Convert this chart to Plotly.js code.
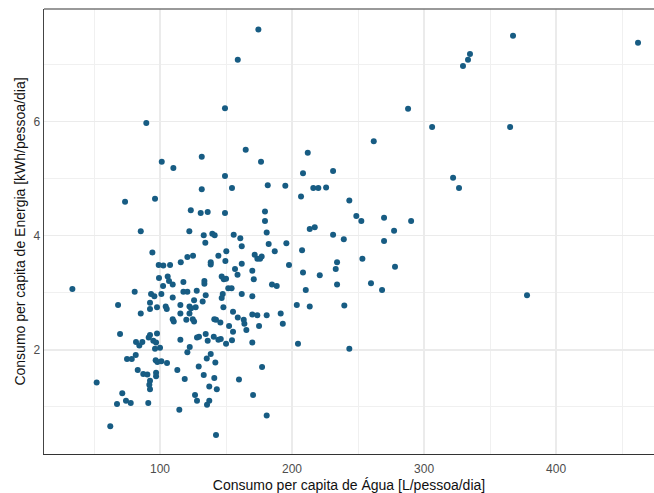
<!DOCTYPE html>
<html>
<head>
<meta charset="utf-8">
<script src="https://cdn.plot.ly/plotly-3.0.1.min.js"></script>
<style>
html,body{margin:0;padding:0;background:#fff;}
#chart{width:654px;height:493px;}
</style>
</head>
<body>
<div id="chart"></div>
<script>
// Consumo per capita de Água [L/pessoa/dia]
const agua = [
89.6,101.3,110.1,73.5,96.2,85.4,94.2,99.0,102.5,107.6,99.2,105.8,106.8,109.6,102.3,33.6,80.8,93.2,95.7,101.0,
109.6,68.2,92.4,92.4,97.7,104.3,105.1,85.4,109.6,110.4,69.7,92.4,91.4,97.7,81.8,86.6,84.3,94.9,97.0,96.2,
100.0,81.6,75.0,78.6,96.7,98.0,101.0,105.3,83.1,87.3,90.4,97.0,97.0,113.1,52.0,92.4,91.9,92.4,71.4,74.2,
77.8,67.4,91.1,114.6,62.3,
158.9,174.5,149.2,164.9,131.6,176.5,211.9,261.9,149.2,131.6,154.5,181.6,194.9,208.3,231.1,216.1,219.9,225.8,206.8,243.4,
123.3,130.8,136.1,149.2,179.5,179.5,248.7,252.5,122.2,133.1,139.6,141.4,134.3,155.8,160.8,161.9,180.8,182.3,195.7,186.9,
213.4,217.2,231.1,239.2,207.6,197.7,253.3,234.1,233.1,115.7,120.7,125.0,144.2,150.2,149.5,138.4,138.4,161.9,171.7,173.7,
177.0,175.8,156.8,208.3,221.0,234.1,259.8,158.7,146.7,148.3,150.0,169.9,171.0,161.9,169.9,184.8,188.4,210.4,203.6,213.4,
239.6,191.4,193.0,180.8,173.7,169.9,175.0,165.4,163.4,163.9,158.9,155.3,152.3,155.3,154.5,169.9,150.0,144.2,146.0,140.7,
136.1,134.6,128.0,129.5,145.7,141.1,142.4,148.0,151.7,154.2,147.5,146.7,134.6,132.3,127.8,125.8,127.0,122.3,123.5,122.3,
120.7,117.7,117.7,115.4,115.4,119.9,124.8,125.8,115.4,120.7,122.5,138.4,135.4,141.9,129.3,133.1,141.1,118.7,137.3,143.0,
159.8,177.3,204.5,243.4,126.5,128.0,137.3,135.6,170.5,180.8,142.4,133.6,133.6,
367.4,462.1,334.8,333.3,329.5,287.9,306.1,365.2,322.0,326.5,269.7,290.2,277.3,269.7,278.0,268.2,378.0
];
// Consumo per capita de Energia [kWh/pessoa/dia]
const energia = [
5.98,5.30,5.19,4.60,4.65,4.08,3.71,3.49,3.48,3.49,3.26,3.29,3.21,3.15,3.12,3.07,3.02,2.98,2.94,2.98,
2.92,2.79,2.83,2.72,2.75,2.76,2.72,2.64,2.54,2.50,2.28,2.26,2.22,2.29,2.14,2.14,2.08,2.16,2.13,2.02,
2.04,1.91,1.84,1.84,1.82,1.79,1.80,1.77,1.65,1.58,1.57,1.60,1.54,1.65,1.43,1.46,1.39,1.31,1.24,1.11,
1.07,1.05,1.07,0.95,0.66,
7.09,7.62,6.24,5.51,5.39,5.30,5.46,5.66,5.05,4.82,4.84,4.89,4.88,5.10,5.14,4.84,4.84,4.85,4.69,4.62,
4.45,4.40,4.42,4.40,4.43,4.26,4.35,4.26,4.08,4.01,4.04,4.01,3.88,4.02,3.96,3.82,4.06,3.86,3.87,3.73,
4.12,4.15,4.02,3.94,3.75,3.49,3.60,3.54,3.42,3.54,3.63,3.65,3.65,3.73,3.56,3.54,3.50,3.51,3.67,3.60,
3.64,3.60,3.42,3.36,3.31,3.15,3.17,3.32,3.29,3.24,3.25,3.39,3.24,2.98,2.94,3.15,3.12,3.05,2.79,2.76,
2.78,2.64,2.46,2.61,2.61,2.62,2.42,2.35,2.53,2.46,2.57,2.67,2.42,2.32,2.17,2.13,2.11,2.18,2.19,2.23,
2.16,2.28,2.22,2.23,2.48,2.54,2.53,2.75,3.08,3.08,2.98,2.91,2.96,2.85,3.04,2.87,2.75,2.76,2.73,2.64,
3.02,3.02,3.19,2.79,2.64,2.53,2.54,2.50,2.18,1.96,2.05,1.93,1.85,1.78,1.71,1.56,1.51,1.49,1.36,1.31,
1.48,1.70,2.11,2.02,1.21,1.11,1.11,1.04,1.21,0.85,0.51,3.21,3.16,
7.51,7.39,7.19,7.09,6.98,6.23,5.91,5.91,5.02,4.84,4.32,4.26,4.09,3.91,3.46,3.05,2.96
];

const xTicks = [100, 200, 300, 400];
const yTicks = [2, 4, 6];

const trace = {
  type: 'scatter',
  mode: 'markers',
  x: agua,
  y: energia,
  marker: {color: '#175C83', size: 6, line: {width: 0}},
  hoverinfo: 'x+y'
};

const layout = {
  width: 654,
  height: 493,
  margin: {l: 44, r: 0, t: 9, b: 39},
  paper_bgcolor: '#ffffff',
  plot_bgcolor: '#ffffff',
  showlegend: false,
  font: {family: 'Liberation Sans, Arial, sans-serif', color: '#000'},
  xaxis: {
    range: [12.1, 474.2],
    tickvals: xTicks,
    ticktext: xTicks.map(String),
    ticks: '',
    ticklabelstandoff: 3,
    tickfont: {size: 12, color: '#4D4D4D'},
    showgrid: true,
    gridcolor: '#EBEBEB',
    gridwidth: 1.1,
    minor: {tickvals: [50, 150, 250, 350, 450], showgrid: true, gridcolor: '#F0F0F0', gridwidth: 1, ticks: ''},
    zeroline: false,
    showline: true,
    linecolor: '#333333',
    linewidth: 1.3,
    title: {text: 'Consumo per capita de Água [L/pessoa/dia]', font: {size: 14, color: '#111'}, standoff: 5}
  },
  yaxis: {
    range: [0.175, 7.98],
    tickvals: yTicks,
    ticktext: yTicks.map(String),
    ticks: '',
    tickfont: {size: 12, color: '#4D4D4D'},
    showgrid: true,
    gridcolor: '#EBEBEB',
    gridwidth: 1.1,
    minor: {tickvals: [1, 3, 5, 7], showgrid: true, gridcolor: '#F0F0F0', gridwidth: 1, ticks: ''},
    zeroline: false,
    showline: true,
    linecolor: '#444444',
    linewidth: 1.3,
    title: {text: 'Consumo per capita de Energia [kWh/pessoa/dia]', font: {size: 14, color: '#111'}, standoff: 4}
  },
  shapes: [{
    type: 'line', xref: 'paper', yref: 'paper', x0: 0, x1: 1, y0: 1, y1: 1,
    line: {color: '#777777', width: 1.3}
  }]
};

Plotly.newPlot('chart', [trace], layout, {displayModeBar: false, staticPlot: true});
</script>
</body>
</html>
